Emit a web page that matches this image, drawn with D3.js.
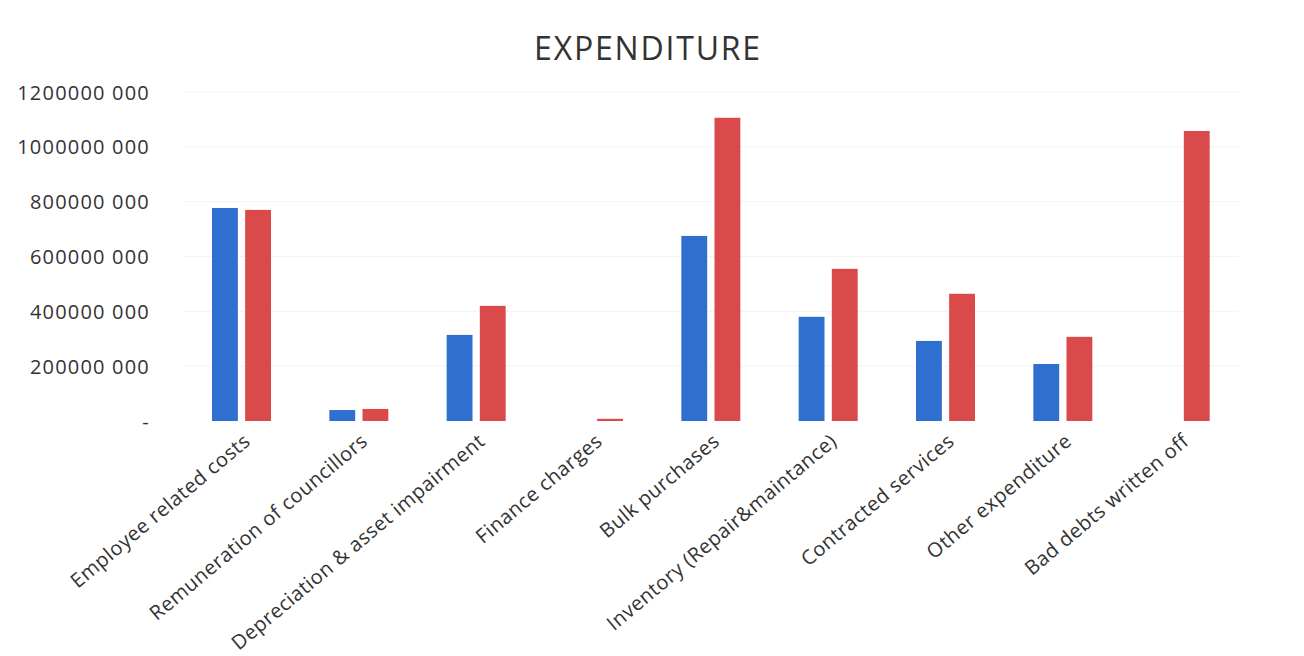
<!DOCTYPE html>
<html>
<head>
<meta charset="utf-8">
<script src="https://cdn.jsdelivr.net/npm/d3@7"></script>
<style>
    body { margin: 0; background: #fff; }
    .chart text { font-family: "Open Sans", sans-serif; fill: #333; }
</style>
</head>
<body>
<div id="chart" class="chart"></div>
<script>
// chart data
const categories = [
    "Employee related costs",
    "Remuneration of councillors",
    "Depreciation & asset impairment",
    "Finance charges",
    "Bulk purchases",
    "Inventory (Repair&maintance)",
    "Contracted services",
    "Other expenditure",
    "Bad debts written off"
];
const seriesBlue = [777000000, 40000000, 314000000, 0, 675000000, 380000000, 292000000, 208000000, 0];
const seriesRed = [770000000, 44000000, 420000000, 8000000, 1106000000, 555000000, 464000000, 307000000, 1058000000];
const yTicks = [0, 200000000, 400000000, 600000000, 800000000, 1000000000, 1200000000];

const margin = { top: 92, right: 65, bottom: 235, left: 183 };
const totalWidth = 1304, totalHeight = 656;
const width = totalWidth - margin.left - margin.right;
const height = totalHeight - margin.top - margin.bottom;

const svg = d3.select("#chart").append("svg")
    .attr("width", totalWidth)
    .attr("height", totalHeight);

svg.append("text")
    .attr("x", 648)
    .attr("y", 60)
    .attr("text-anchor", "middle")
    .style("font-size", "32px")
    .style("letter-spacing", "1.8px")
    .text("EXPENDITURE");

const g = svg.append("g")
    .attr("transform", "translate(" + margin.left + "," + margin.top + ")");

const x = d3.scaleBand().domain(categories).range([0, width]).paddingInner(0).paddingOuter(0);
const x1 = d3.scaleBand().domain(["blue", "red"]).range([29, 88]).paddingInner(0.22);
const y = d3.scaleLinear().domain([0, 1200000000]).range([height, 0]);

// gridlines (very faint in the scan)
g.append("g")
    .selectAll("line")
    .data(yTicks.slice(1))
    .join("line")
    .attr("x1", 0)
    .attr("x2", width)
    .attr("y1", d => y(d))
    .attr("y2", d => y(d))
    .attr("stroke", "#f3f3f3")
    .attr("stroke-width", 1);

// y axis
const yAxis = g.append("g")
    .attr("transform", "translate(-30,0)")
    .call(d3.axisLeft(y)
        .tickValues(yTicks)
        .tickSize(0)
        .tickFormat(d => d === 0 ? "-" : Math.floor(d / 1000) + " 000"));
yAxis.select(".domain").remove();
yAxis.selectAll("text")
    .style("font-size", "20px")
    .style("letter-spacing", "1.2px")
    .attr("dy", "0.35em");

const groups = g.selectAll(".cat")
    .data(categories)
    .join("g")
    .attr("class", "cat")
    .attr("transform", d => "translate(" + x(d) + ",0)");

groups.append("rect")
    .attr("x", x1("blue"))
    .attr("y", (d, i) => y(seriesBlue[i]))
    .attr("width", x1.bandwidth())
    .attr("height", (d, i) => height - y(seriesBlue[i]))
    .attr("fill", "#2f6fd0");

groups.append("rect")
    .attr("x", x1("red"))
    .attr("y", (d, i) => y(seriesRed[i]))
    .attr("width", x1.bandwidth())
    .attr("height", (d, i) => height - y(seriesRed[i]))
    .attr("fill", "#da4a4b");

// x axis labels rotated
const xAxis = g.append("g")
    .attr("transform", "translate(0," + height + ")")
    .call(d3.axisBottom(x).tickSize(0));
xAxis.select(".domain").remove();
xAxis.selectAll("text")
    .style("font-size", "20px")
    .style("letter-spacing", "0.5px")
    .attr("text-anchor", "end")
    .attr("dx", "0")
    .attr("dy", "0")
    .attr("transform", "translate(8,20) rotate(-40)");
</script>
</body>
</html>
